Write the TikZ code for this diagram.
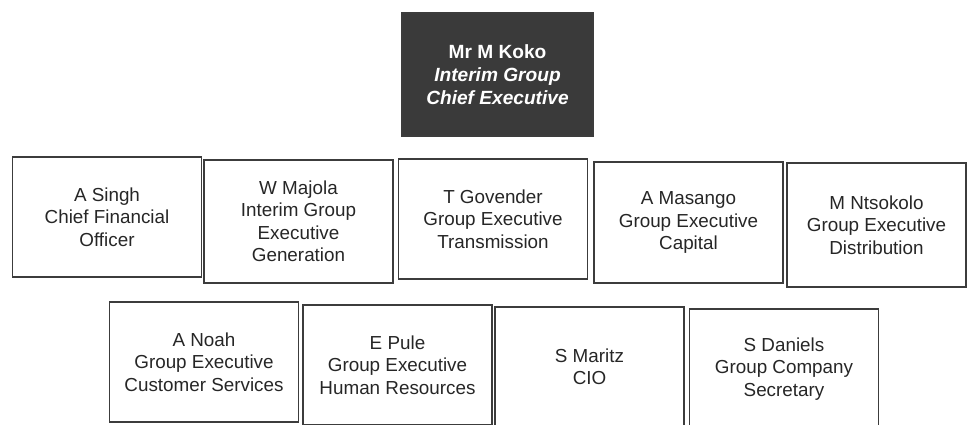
\documentclass[tikz,border=0pt]{standalone}
\usepackage{fontspec}
\setmainfont{Liberation Sans}
\usepackage{tikz}
\usepackage[dvipsnames]{xcolor}
\definecolor{boxline}{RGB}{60,60,60}
\definecolor{chieffill}{RGB}{58,58,58}
\tikzset{
  post/.style={draw=boxline, line width=1pt, align=center, inner sep=0pt,
    text=black!85, minimum width=#1, minimum height=3cm,
    font=\fontsize{13.4}{16}\selectfont},
  post/.default=4.72cm,
  chief/.style={fill=chieffill, draw=boxline, line width=1pt, align=center,
    text=white, minimum width=4.78cm, minimum height=3.08cm,
    font=\fontsize{13.6}{16.4}\selectfont\bfseries},
}

\begin{document}
\begin{tikzpicture}[x=0.025cm, y=-0.025cm]
  \useasboundingbox (0, 0) rectangle (969, 425);

  \node[chief] (koko) at (497.5, 74.5) {Mr M Koko\\ \itshape Interim Group\\ \itshape Chief Executive};

  % first row
  \node[post]                        (singh)    at (107, 217)   {A Singh\\ Chief Financial\\ Officer};
  \node[post, minimum height=3.08cm] (majola)   at (298.5, 221.5) {W Majola\\ Interim Group\\ Executive\\ Generation};
  \node[post]                        (govender) at (493, 219)   {T Govender\\ Group Executive\\ Transmission};
  \node[post, minimum height=3.02cm] (masango)  at (688.5, 222.5) {A Masango\\ Group Executive\\ Capital};
  \node[post=4.48cm, minimum height=3.1cm] (ntsokolo) at (876.5, 225) {M Ntsokolo\\ Group Executive\\ Distribution};

  % second row
  \node[post]   (noah)    at (204, 362)   {A Noah\\ Group Executive\\ Customer Services};
  \node[post]   (pule)    at (397.5, 365) {E Pule\\ Group Executive\\ Human Resources};
  \node[post]   (maritz)  at (589.5, 367) {S Maritz\\ CIO};
  \node[post]   (daniels) at (784, 369)   {S Daniels\\ Group Company\\ Secretary};
\end{tikzpicture}
\end{document}
